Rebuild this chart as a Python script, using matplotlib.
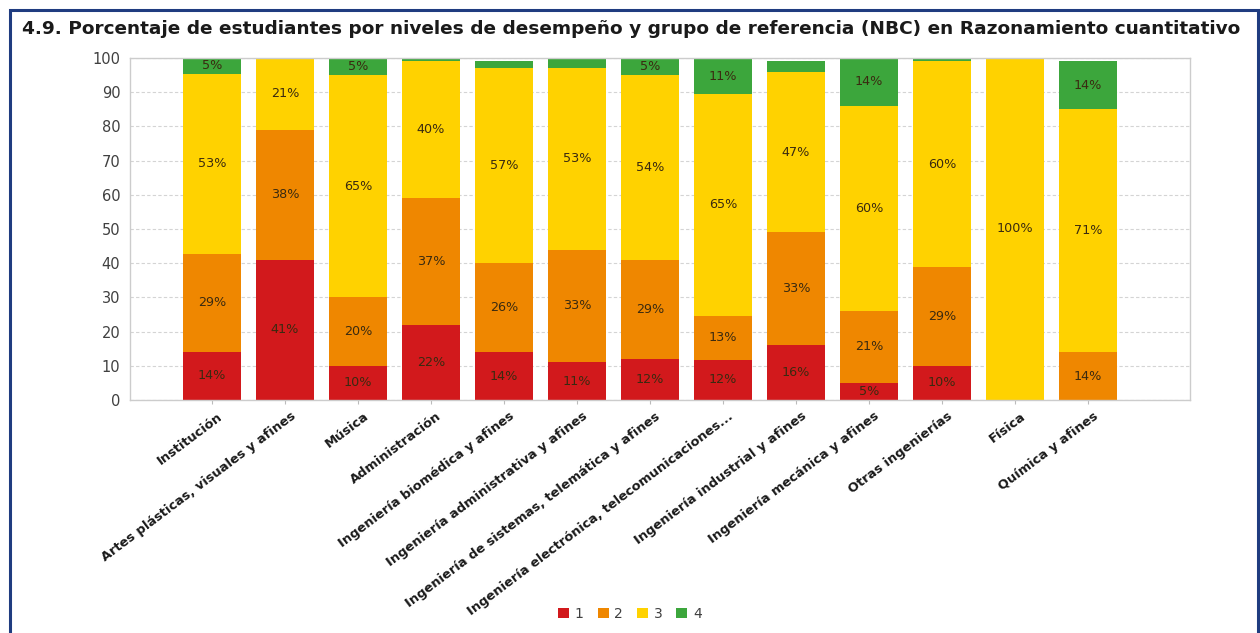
import matplotlib
matplotlib.use("Agg")
import matplotlib.pyplot as plt
import matplotlib.transforms as mtransforms
from matplotlib.patches import Rectangle
import numpy as np

categories = [
    "Institución",
    "Artes plásticas, visuales y afines",
    "Música",
    "Administración",
    "Ingeniería biomédica y afines",
    "Ingeniería administrativa y afines",
    "Ingeniería de sistemas, telemática y afines",
    "Ingeniería electrónica, telecomunicaciones...",
    "Ingeniería industrial y afines",
    "Ingeniería mecánica y afines",
    "Otras ingenierías",
    "Física",
    "Química y afines",
]
nivel_1 = [14.1, 41.0, 10.0, 22.0, 14.0, 11.0, 12.0, 11.8, 16.0, 5.0, 10.0, 0.0, 0.0]
nivel_2 = [28.6, 38.0, 20.0, 37.0, 26.0, 33.0, 29.0, 12.9, 33.0, 21.0, 29.0, 0.0, 14.0]
nivel_3 = [52.7, 21.0, 65.0, 40.0, 57.0, 53.0, 54.0, 64.7, 47.0, 60.0, 60.0, 100.0, 71.0]
nivel_4 = [4.6, 0.0, 5.0, 1.0, 2.0, 3.0, 5.0, 10.6, 3.0, 14.0, 1.0, 0.0, 14.0]
series_names = ["1", "2", "3", "4"]
colors = ["#d2191c", "#ef8700", "#ffd200", "#3ca63c"]
title = "4.9. Porcentaje de estudiantes por niveles de desempeño y grupo de referencia (NBC) en Razonamiento cuantitativo"

plt.rcParams["font.family"] = ["DejaVu Sans"]

fig = plt.figure(figsize=(12.6, 6.33), dpi=100)
# outer frame
fig.patches.append(Rectangle((10/1260, -0.05), 1248/1260, 1 - 10/633 + 0.05,
                             transform=fig.transFigure, fill=False,
                             edgecolor="#1f3c80", linewidth=2.2))
fig.text(22/1260, 1 - 29/633, title, fontsize=13.3, fontweight="bold",
         color="#1a1a1a", ha="left", va="center")

ax = fig.add_axes([130/1260, 1 - 400/633, 1060/1260, 342/633])
x = np.arange(len(categories))
bottom = np.zeros(len(categories))
series = [nivel_1, nivel_2, nivel_3, nivel_4]
for name, vals, c in zip(series_names, series, colors):
    vals = np.array(vals)
    ax.bar(x, vals, width=0.79, bottom=bottom, color=c, label=name, zorder=2)
    for xi, b, v in zip(x, bottom, vals):
        if v >= 4.5:
            ax.text(xi, b + v / 2, f"{round(v)}%", ha="center", va="center",
                    fontsize=9.2, color="#3a2a10", zorder=3)
    bottom += vals

ax.set_xlim(-1.124, 13.40)
ax.set_ylim(0, 100)
ax.set_yticks(np.arange(0, 101, 10))
ax.yaxis.grid(True, linestyle=(0, (3, 2)), color="#d4d4d4", linewidth=0.8, zorder=0)
ax.set_axisbelow(True)
for s in ax.spines.values():
    s.set_color("#cccccc")
    s.set_linewidth(1.0)
ax.tick_params(axis="y", length=0, labelsize=10.5, labelcolor="#404040", pad=7)
ax.tick_params(axis="x", length=3, color="#bbbbbb", pad=4)
ax.set_xticks(x)
ax.set_xticklabels(categories, rotation=37, ha="right", rotation_mode="anchor",
                   fontsize=9.4, fontweight="bold", color="#1a1a1a")
shift = mtransforms.ScaledTranslation(5/100, 0, fig.dpi_scale_trans)
for lbl in ax.get_xticklabels():
    lbl.set_transform(lbl.get_transform() + shift)

handles, labels = ax.get_legend_handles_labels()
fig.legend(handles, labels, loc="center", bbox_to_anchor=(0.5, 1 - 614/633),
           ncol=4, frameon=False, fontsize=10, handlelength=0.8, handleheight=0.8,
           handletextpad=0.4, columnspacing=1.0, labelcolor="#404040")

fig.savefig("out.png", dpi=100)
